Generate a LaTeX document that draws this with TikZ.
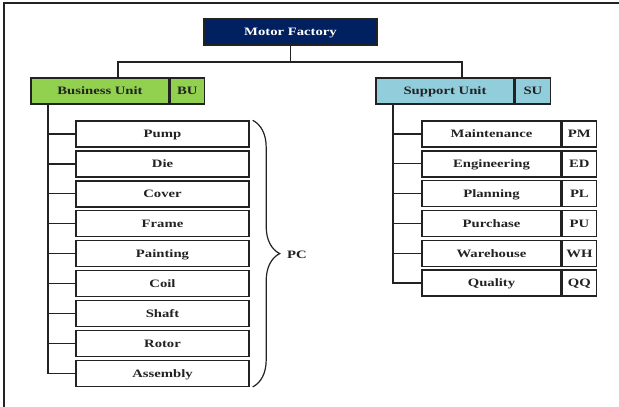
\documentclass[tikz,border=0pt]{standalone}
\usepackage{fontspec}
\setmainfont{Liberation Serif}[FakeStretch=1.3]
\usetikzlibrary{decorations.pathreplacing}
\definecolor{navy}{HTML}{002060}
\definecolor{bugreen}{HTML}{92D050}
\definecolor{sublue}{HTML}{92CDDC}
\definecolor{ink}{HTML}{222222}
\tikzset{
  lbl/.style={font=\fontsize{11.3}{13}\selectfont\bfseries, text=ink},
  box/.style={lbl, draw=ink, line width=1.4pt, rectangle, inner sep=0pt, minimum height=26pt,
    text height=8.8pt, text depth=1.2pt},
  conn/.style={draw=ink, line width=1.2pt},
}
\begin{document}
\begin{tikzpicture}[x=1pt,y=-1pt]
\useasboundingbox (0,0) rectangle (619,407);
\draw[ink, line width=1.3pt] (4,407) -- (4,3) -- (619,3);

\node[box, fill=navy, text=white, minimum width=173pt] (mf) at (290.5,32) {Motor Factory};

\node[box, fill=bugreen, minimum width=138pt] (bu) at (100,91) {Business Unit};
\node[box, fill=bugreen, minimum width=34pt, anchor=west] (buc) at (bu.east) {BU};

\node[box, fill=sublue, minimum width=138pt] (su) at (445,91) {Support Unit};
\node[box, fill=sublue, minimum width=35pt, anchor=west] (suc) at (su.east) {SU};

\draw[conn] (mf.south) -- (mf.south |- 0,62) -| ([xshift=18pt]bu.north);
\draw[conn] (mf.south |- 0,62) -| ([xshift=17pt]su.north);

\foreach \t [count=\i from 0] in {Pump,Die,Cover,Frame,Painting,Coil,Shaft,Rotor,Assembly}{
  \node[box, fill=white, minimum width=173pt] (b\i) at (162.5,134+29.9*\i) {\t};
  \draw[conn] ([xshift=-52pt]bu.south) |- (b\i.west);
}

\foreach \t/\c [count=\i from 0] in {Maintenance/PM,Engineering/ED,Planning/PL,Purchase/PU,Warehouse/WH,Quality/QQ}{
  \node[box, fill=white, minimum width=139pt] (s\i) at (491.5,134+29.8*\i) {\t};
  \node[box, fill=white, minimum width=34pt, anchor=west] (sc\i) at (s\i.east) {\c};
  \draw[conn] ([xshift=-52pt]su.south) |- (s\i.west);
}

\draw[ink, line width=1.2pt, decorate, decoration={brace, amplitude=27pt}]
  ([xshift=3pt]b0.north east) -- ([xshift=3pt]b8.south east);
\node[lbl] (pc) at (297,255) {PC};
\end{tikzpicture}
\end{document}
